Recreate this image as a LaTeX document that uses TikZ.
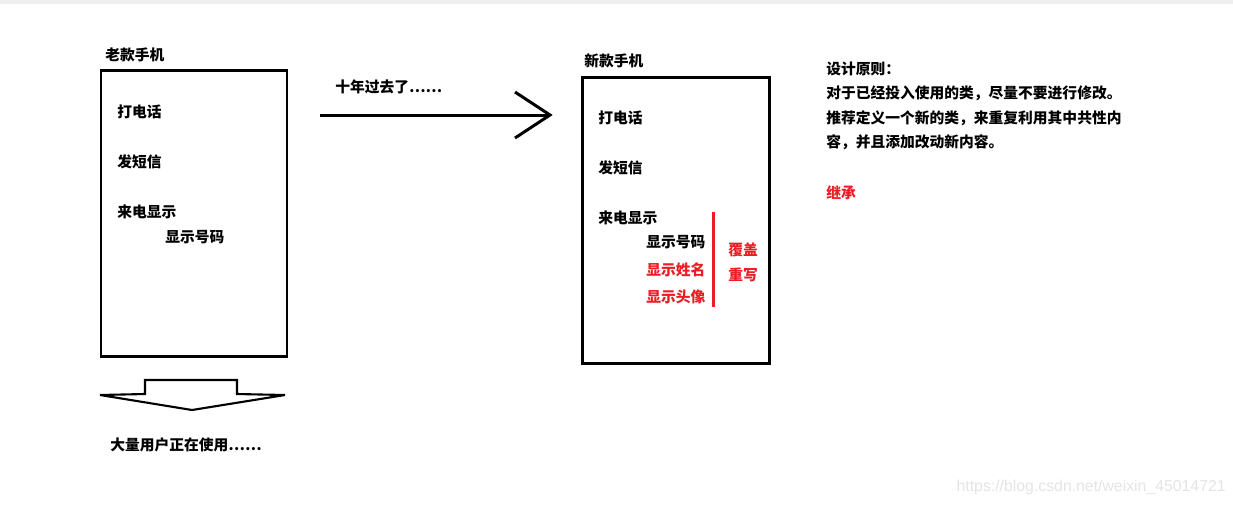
\documentclass[tikz,border=0pt]{standalone}
\usepackage{fontspec}
\newfontfamily\cjk{Noto Sans CJK SC}
\newfontfamily\wmfont{Liberation Sans}
\usepackage{tikz}
\usetikzlibrary{calc}

\definecolor{paintred}{RGB}{237,28,36}
\definecolor{stripgray}{RGB}{238,238,238}
\definecolor{markgray}{RGB}{228,228,228}

\tikzset{
    txt/.style={anchor=west, inner sep=0pt, font=\cjk\bfseries\fontsize{8.4}{10}\selectfont},
    redtxt/.style={txt, text=paintred},
    thickline/.style={line width=1.7pt},
}

\begin{document}
\begin{tikzpicture}[x=0.02cm, y=-0.02cm]
    \useasboundingbox (0, 0) rectangle (1233, 505);
    \fill[stripgray] (0, 0) rectangle (1233, 4);

    % Old phone
    \node[txt] (oldtitle) at (105, 55) {老款手机};
    \draw[thickline] (101, 70) rectangle (287, 356);
    \node[txt] (oldcall) at (117, 112) {打电话};
    \node[txt] (oldsms) at (117, 162) {发短信};
    \node[txt] (oldshow) at (117, 212) {来电显示};
    \node[txt] (oldnum) at (165, 237) {显示号码};

    % Block arrow pointing down
    \draw[line width=1.2pt, line join=miter] (145, 394) -- (145, 380) -- (237, 380) -- (237, 394)
        -- (285, 395) -- (192, 410) -- (100, 395) -- cycle;
    \node[txt] (users) at (110, 445) {大量用户正在使用……};

    % Arrow old -> new
    \node[txt] (years) at (335, 87) {十年过去了……};
    \coordinate (arrstart) at (320, 115);
    \coordinate (arrend) at (550, 115);
    \draw[thickline] (arrstart) -- (arrend);
    \draw[thickline, line join=miter] ($(arrend)+(-35,-23)$) -- (arrend) -- ($(arrend)+(-35,23)$);

    % New phone
    \node[txt] (newtitle) at (584, 61) {新款手机};
    \draw[thickline] (582, 77) rectangle (769, 363);
    \node[txt] (newcall) at (598, 118) {打电话};
    \node[txt] (newsms) at (598, 168) {发短信};
    \node[txt] (newshow) at (598, 218) {来电显示};
    \node[txt] (newnum) at (646, 242) {显示号码};
    \node[redtxt] (newname) at (646, 270) {显示姓名};
    \node[redtxt] (newpic) at (646, 297) {显示头像};

    % Override bracket
    \coordinate (bartop) at (713, 212);
    \coordinate (barbot) at (713, 307);
    \draw[paintred, thickline] (bartop) -- (barbot);
    \node[redtxt] (cover) at (728, 250) {覆盖};
    \node[redtxt] (rewrite) at (728, 275) {重写};

    % Design principle
    \node[txt] (rule) at (826, 69) {设计原则：};
    \node[txt] (line1) at (826, 93) {对于已经投入使用的类，尽量不要进行修改。};
    \node[txt] (line2) at (826, 118) {推荐定义一个新的类，来重复利用其中共性内};
    \node[txt] (line3) at (826, 142) {容，并且添加改动新内容。};
    \node[redtxt] (inherit) at (826, 193) {继承};

    % Watermark
    \node[anchor=east, inner sep=0pt, text=markgray, font=\wmfont\fontsize{9}{10}\selectfont]
        (mark) at (1226, 487) {https://blog.csdn.net/weixin\_45014721};
\end{tikzpicture}
\end{document}
